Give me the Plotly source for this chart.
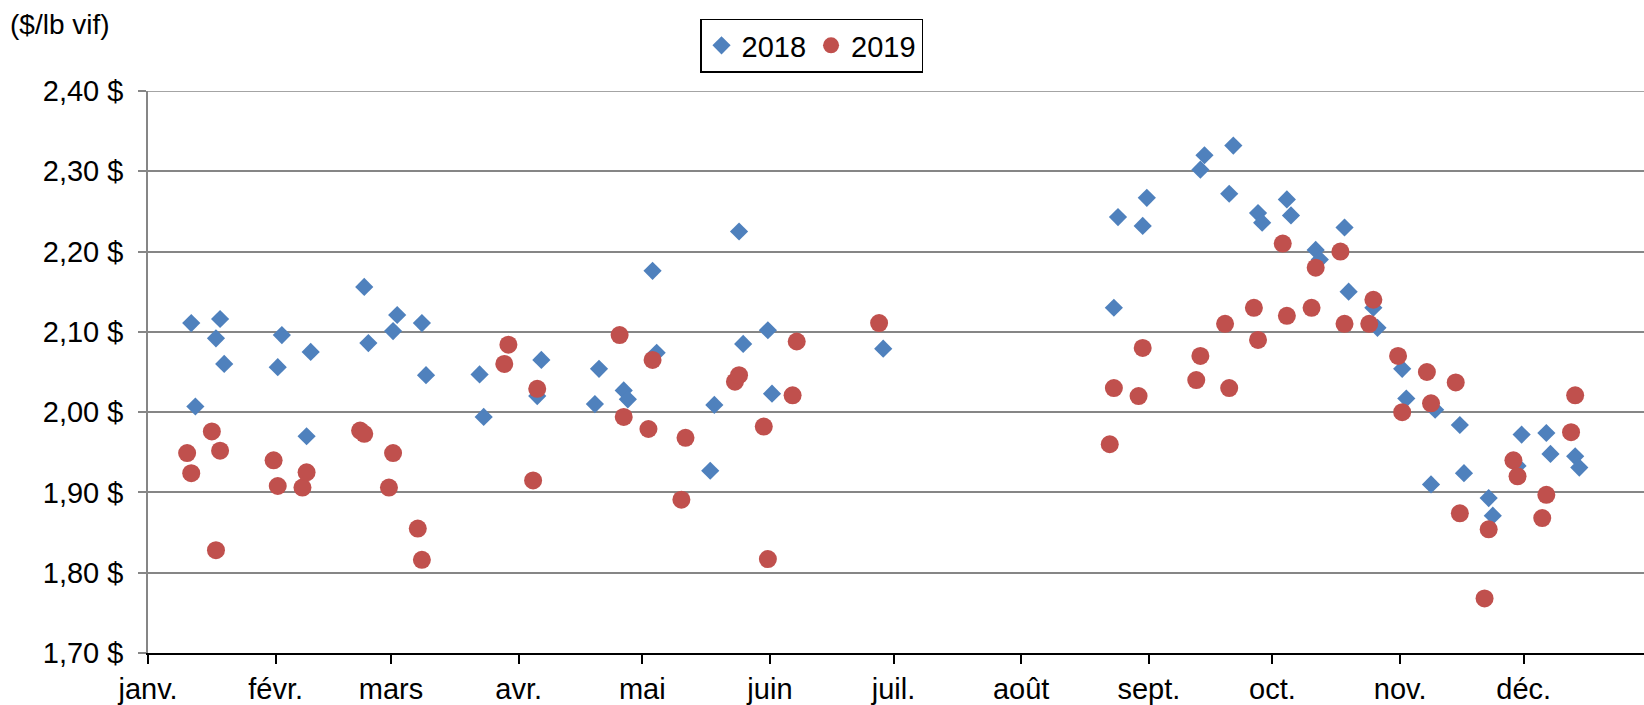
import pandas as pd
import plotly.graph_objects as go

# Prix hebdomadaires ($/lb vif), dates (mois-jour)
dates_2018 = ["01-11", "01-12", "01-17", "01-18", "01-19", "02-01", "02-02", "02-08", "02-09",
              "02-22", "02-23", "03-01", "03-02", "03-08", "03-09", "03-22", "03-23", "04-05",
              "04-06", "04-19", "04-20", "04-26", "04-27", "05-03", "05-04", "05-17", "05-18",
              "05-24", "05-25", "05-31", "06-01", "06-28", "08-23", "08-24", "08-30", "08-31",
              "09-13", "09-14", "09-20", "09-21", "09-27", "09-28", "10-04", "10-05", "10-11",
              "10-12", "10-18", "10-19", "10-25", "10-26", "11-01", "11-02", "11-08", "11-09",
              "11-15", "11-16", "11-22", "11-23", "11-29", "11-30", "12-06", "12-07", "12-13",
              "12-14"]
prix_2018 = [2.111, 2.007, 2.092, 2.116, 2.060, 2.056, 2.096, 1.970, 2.075,
             2.156, 2.086, 2.101, 2.121, 2.111, 2.046, 2.047, 1.994, 2.020,
             2.065, 2.010, 2.054, 2.027, 2.016, 2.176, 2.074, 1.927, 2.009,
             2.225, 2.085, 2.102, 2.023, 2.079, 2.130, 2.243, 2.232, 2.267,
             2.302, 2.320, 2.272, 2.332, 2.248, 2.236, 2.265, 2.245, 2.202,
             2.190, 2.230, 2.150, 2.130, 2.105, 2.054, 2.017, 1.910, 2.003,
             1.984, 1.924, 1.893, 1.871, 1.933, 1.972, 1.974, 1.948, 1.945,
             1.931]

dates_2019 = ["01-10", "01-11", "01-16", "01-17", "01-18", "01-31", "02-01", "02-07", "02-08",
              "02-21", "02-22", "02-28", "03-01", "03-07", "03-08", "03-28", "03-29", "04-04",
              "04-05", "04-25", "04-26", "05-02", "05-03", "05-10", "05-11", "05-23", "05-24",
              "05-30", "05-31", "06-06", "06-07", "06-27", "08-22", "08-23", "08-29", "08-30",
              "09-12", "09-13", "09-19", "09-20", "09-26", "09-27", "10-03", "10-04", "10-10",
              "10-11", "10-17", "10-18", "10-24", "10-25", "10-31", "11-01", "11-07", "11-08",
              "11-14", "11-15", "11-21", "11-22", "11-28", "11-29", "12-05", "12-06", "12-12",
              "12-13"]
prix_2019 = [1.949, 1.924, 1.976, 1.828, 1.952, 1.940, 1.908, 1.906, 1.925,
             1.977, 1.973, 1.906, 1.949, 1.855, 1.816, 2.060, 2.084, 1.915,
             2.029, 2.096, 1.994, 1.979, 2.065, 1.891, 1.968, 2.038, 2.046,
             1.982, 1.817, 2.021, 2.088, 2.111, 1.960, 2.030, 2.020, 2.080,
             2.040, 2.070, 2.110, 2.030, 2.130, 2.090, 2.210, 2.120, 2.130,
             2.180, 2.200, 2.110, 2.110, 2.140, 2.070, 2.000, 2.050, 2.011,
             2.037, 1.874, 1.768, 1.854, 1.940, 1.920, 1.868, 1.897, 1.975,
             2.021]

mois = ["janv.", "févr.", "mars", "avr.", "mai", "juin", "juil.", "août",
        "sept.", "oct.", "nov.", "déc."]
y_ticks = [1.70, 1.80, 1.90, 2.00, 2.10, 2.20, 2.30, 2.40]
y_labels = ["1,70 $", "1,80 $", "1,90 $", "2,00 $", "2,10 $", "2,20 $", "2,30 $", "2,40 $"]


# les deux années sont placées sur le même axe janvier-décembre
def to_axis(dates):
    return pd.to_datetime(["2019-" + d for d in dates]) + pd.Timedelta(hours=12)


font = "Liberation Sans, Arial, sans-serif"

fig = go.Figure()
fig.add_trace(go.Scatter(
    x=to_axis(dates_2018), y=prix_2018, mode="markers", name="2018",
    marker=dict(symbol="diamond", size=14, color="#4F81BD", line=dict(width=0))
))
fig.add_trace(go.Scatter(
    x=to_axis(dates_2019), y=prix_2019, mode="markers", name="2019",
    marker=dict(symbol="circle", size=18, color="#C0504D", line=dict(width=0))
))

month_ticks = pd.date_range("2019-01-01", periods=12, freq="MS")

fig.update_layout(
    width=1644, height=705,
    margin=dict(l=148, r=0, t=91, b=48),
    paper_bgcolor="white", plot_bgcolor="white",
    font=dict(family=font, size=29, color="black"),
    showlegend=True,
    legend=dict(
        orientation="h", x=0.369, y=1.129, xanchor="left", yanchor="top",
        bordercolor="black", borderwidth=1.5, bgcolor="white",
        font=dict(size=29), itemwidth=30, tracegroupgap=0,
    ),
    annotations=[dict(
        text="($/lb vif)", xref="paper", yref="paper", x=-0.0935, y=1.118,
        xanchor="left", yanchor="middle", showarrow=False, font=dict(size=28),
    )],
    # plotly ne trace pas la grille au bord haut : on l'ajoute
    shapes=[dict(
        type="line", xref="paper", yref="y", x0=0, x1=1,
        y0=y_ticks[-1], y1=y_ticks[-1], layer="below",
        line=dict(color="#868686", width=1.5),
    )],
)

fig.update_xaxes(
    type="date",
    range=["2019-01-01", "2019-12-30 05:00"],
    tickvals=month_ticks, ticktext=mois,
    ticks="outside", ticklen=9, tickwidth=2, tickcolor="black",
    showline=True, linecolor="black", linewidth=2,
    showgrid=False, zeroline=False,
)
fig.update_yaxes(
    range=[1.70, 2.40],
    tickvals=y_ticks, ticktext=y_labels,
    ticks="outside", ticklen=8, tickwidth=1.5, tickcolor="#868686",
    showline=True, linecolor="#868686", linewidth=1.5,
    showgrid=True, gridcolor="#868686", gridwidth=1.5,
    zeroline=False, ticklabelstandoff=9,
)

# la page par défaut a une marge de 8 px autour du graphique
fig.write_html("out.html", config={"displayModeBar": False},
               post_script="document.body.style.margin='0';")
